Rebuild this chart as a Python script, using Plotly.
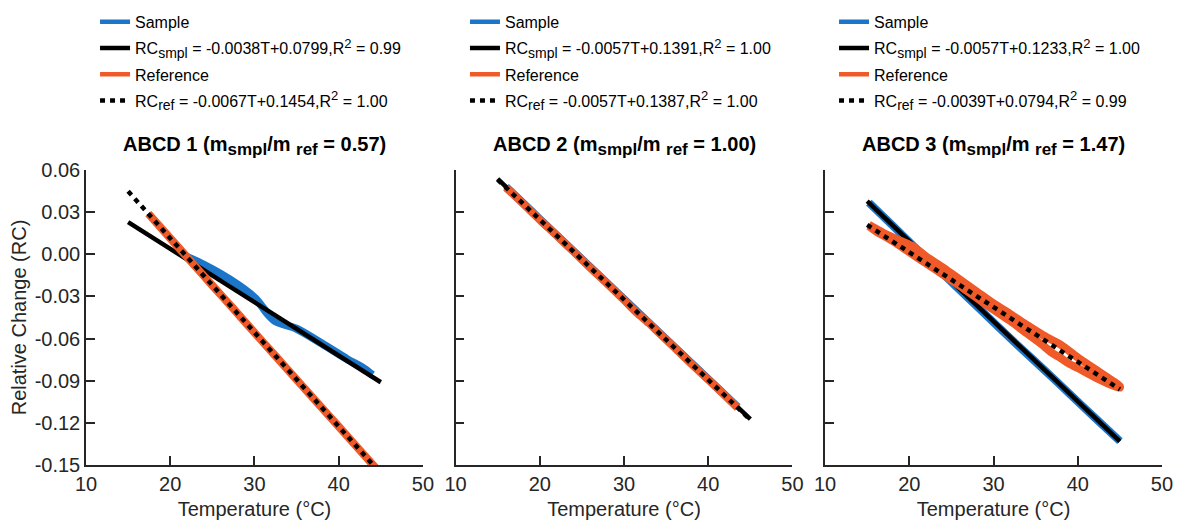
import plotly.graph_objects as go
from plotly.subplots import make_subplots

# ---- data ----
def sub(t, px):
    return f'<sub><span style="font-size:{px}px">{t}</span></sub>'

panel_titles = [f"ABCD 1 (m{sub('smpl', 17)}/m {sub('ref', 17)} = 0.57)",
                f"ABCD 2 (m{sub('smpl', 17)}/m {sub('ref', 17)} = 1.00)",
                f"ABCD 3 (m{sub('smpl', 17)}/m {sub('ref', 17)} = 1.47)"]

sup2 = '<sup><span style="font-size:13px">2</span></sup>'
smpl_fit_labels = [f"RC{sub('smpl', 14)} = -0.0038T+0.0799,R{sup2} = 0.99",
                   f"RC{sub('smpl', 14)} = -0.0057T+0.1391,R{sup2} = 1.00",
                   f"RC{sub('smpl', 14)} = -0.0057T+0.1233,R{sup2} = 1.00"]
ref_fit_labels = [f"RC{sub('ref', 14)} = -0.0067T+0.1454,R{sup2} = 1.00",
                  f"RC{sub('ref', 14)} = -0.0057T+0.1387,R{sup2} = 1.00",
                  f"RC{sub('ref', 14)} = -0.0039T+0.0794,R{sup2} = 0.99"]

# panel 1
smpl1_T = [22, 24, 26, 28, 29.5, 30.5, 31.5, 32.5, 33.5, 35, 38, 41, 43, 44]
smpl1_RC = [-0.0018, -0.0075, -0.0140, -0.0215, -0.0282, -0.0340, -0.0420, -0.0478, -0.0500, -0.0530, -0.0635, -0.0746, -0.0813, -0.0858]
ref1_T = [17.4, 20, 22.5, 25, 27.5, 30, 32.5, 35, 37.5, 40, 42.5, 45]
ref1_RC = [0.0290, 0.0114, -0.0054, -0.0222, -0.0388, -0.0558, -0.0724, -0.0892, -0.1060, -0.1226, -0.1394, -0.1562]
fit1_T = [15, 45]
fit1_smpl = [0.0229, -0.0911]
fit1_ref = [0.0449, -0.1561]

# panel 2
smpl2_T = [16, 18, 20, 22, 24, 26, 28, 30, 32, 34, 36, 38, 40, 42, 43.5]
smpl2_RC = [0.0479, 0.0365, 0.0251, 0.0137, 0.0023, -0.0091, -0.0205, -0.0319, -0.0433, -0.0547, -0.0661, -0.0775, -0.0889, -0.1003, -0.1089]
ref2_T = [16, 18, 20, 22, 24, 26, 28, 30, 31.5, 33, 34, 36, 38, 40, 42, 43.5]
ref2_RC = [0.0475, 0.0362, 0.0246, 0.0134, 0.0020, -0.0096, -0.0208, -0.0325, -0.0415, -0.0492, -0.0550, -0.0664, -0.0780, -0.0892, -0.1006, -0.1093]
fit2_T = [15, 45]
fit2_smpl = [0.0536, -0.1174]
fit2_ref = [0.0532, -0.1178]

# panel 3
smpl3_T = [15.2, 18, 21, 24, 27, 30, 33, 36, 39, 42, 45]
smpl3_RC = [0.0367, 0.0205, 0.0030, -0.0140, -0.0312, -0.0484, -0.0655, -0.0822, -0.0992, -0.1162, -0.1330]
ref3_T = [15.2, 17, 19, 20.5, 22, 24, 26, 28, 30, 32, 34, 36, 38, 40, 42, 44, 45,
          45, 44, 42, 40, 39, 38, 37, 36, 34, 32, 30, 28, 26, 24, 22, 20, 18, 16, 15.2]
ref3_RC = [0.0210, 0.0150, 0.0095, 0.0055, -0.0015, -0.0095, -0.0180, -0.0265, -0.0350, -0.0425, -0.0505, -0.0580, -0.0645, -0.0735, -0.0815, -0.0895, -0.0940,
           -0.0950, -0.0930, -0.0875, -0.0810, -0.0780, -0.0740, -0.0705, -0.0655, -0.0565, -0.0475, -0.0395, -0.0310, -0.0225, -0.0145, -0.0065, 0.0015, 0.0095, 0.0165, 0.0200]
fit3_T = [15, 45]
fit3_smpl = [0.0378, -0.1332]
fit3_ref = [0.0209, -0.0961]

y_ticks = [-0.15, -0.12, -0.09, -0.06, -0.03, 0.0, 0.03, 0.06]
y_ticktext = ["-0.15", "-0.12", "-0.09", "-0.06", "-0.03", "0.00", "0.03", "0.06"]
x_ticks = [10, 20, 30, 40, 50]

BLUE = "#1b75c8"
ORANGE = "#f05a28"
BLACK = "#000000"
AX = "#262626"
FONT = "Liberation Sans, Arial, Helvetica, sans-serif"

panels = [
    (smpl1_T, smpl1_RC, ref1_T, ref1_RC, fit1_T, fit1_smpl, fit1_ref),
    (smpl2_T, smpl2_RC, ref2_T, ref2_RC, fit2_T, fit2_smpl, fit2_ref),
    (smpl3_T, smpl3_RC, ref3_T, ref3_RC, fit3_T, fit3_smpl, fit3_ref),
]

fig = make_subplots(rows=1, cols=3, horizontal_spacing=0.0303)

legend_names = ["legend", "legend2", "legend3"]
for i, (sT, sRC, rT, rRC, fT, fS, fR) in enumerate(panels):
    col = i + 1
    lg = legend_names[i]
    fig.add_trace(go.Scatter(x=sT, y=sRC, mode="lines",
                             line=dict(color=BLUE, width=8, shape="spline", smoothing=0.8),
                             showlegend=False), row=1, col=col)
    fig.add_trace(go.Scatter(x=fT, y=fS, mode="lines", line=dict(color=BLACK, width=4.5),
                             showlegend=False), row=1, col=col)
    fig.add_trace(go.Scatter(x=rT, y=rRC, mode="lines",
                             line=dict(color=ORANGE, width=8, shape="spline", smoothing=0.8),
                             showlegend=False), row=1, col=col)
    fig.add_trace(go.Scatter(x=fT, y=fR, mode="lines", line=dict(color=BLACK, width=4.5, dash="5px,5px"),
                             showlegend=False), row=1, col=col)
    # legend entries
    entries = [("Sample", BLUE, "solid"), (smpl_fit_labels[i], BLACK, "solid"),
               ("Reference", ORANGE, "solid"), (ref_fit_labels[i], BLACK, "5px,5px")]
    for k, (name, c, d) in enumerate(entries):
        fig.add_trace(go.Scatter(x=[None], y=[None], mode="lines", name=name,
                                 line=dict(color=c, width=4.5, dash=d),
                                 legend=lg, legendgroup=f"g{i}{k}", showlegend=True),
                      row=1, col=col)

    fig.add_annotation(text="<b>" + panel_titles[i] + "</b>", xref=f"x{'' if col == 1 else col} domain",
                       x=0.5, yref="paper", y=1.08, yanchor="middle", showarrow=False,
                       font=dict(size=20, color="black", family=FONT))

    fig.update_xaxes(range=[10, 50], tickvals=x_ticks, ticks="inside", ticklen=9, tickwidth=1.5,
                     tickcolor=AX, showline=True, linecolor=AX, linewidth=1.5, showgrid=False,
                     zeroline=False, tickfont=dict(size=20, color=AX), automargin=False,
                     title=dict(text="Temperature (°C)", font=dict(size=20, color=AX)),
                     row=1, col=col)
    fig.update_yaxes(range=[-0.15, 0.06], tickvals=y_ticks, ticktext=y_ticktext, ticks="inside",
                     ticklen=9, tickwidth=1.5, tickcolor=AX, showline=True, linecolor=AX, linewidth=1.5,
                     showgrid=False, zeroline=False, tickfont=dict(size=20, color=AX), automargin=False,
                     showticklabels=(col == 1), row=1, col=col)

fig.update_yaxes(title=dict(text="Relative Change (RC)", font=dict(size=20, color=AX), standoff=3), row=1, col=1)

leg_x = [0.0084, 0.3522, 0.6952]
for i, lg in enumerate(legend_names):
    fig.update_layout({lg: dict(x=leg_x[i], xanchor="left", xref="paper", y=1.56, yref="paper",
                                yanchor="top", bgcolor="rgba(0,0,0,0)", traceorder="grouped",
                                tracegroupgap=2.5, font=dict(size=16, color="black", family=FONT))})

fig.update_layout(width=1177, height=520,
                  margin=dict(l=86, r=15, t=170, b=55, autoexpand=False),
                  plot_bgcolor="white", paper_bgcolor="white",
                  font=dict(family=FONT, color=AX))

fig.write_html("out.html", config={"displayModeBar": False},
               post_script="document.body.style.margin='0';")
